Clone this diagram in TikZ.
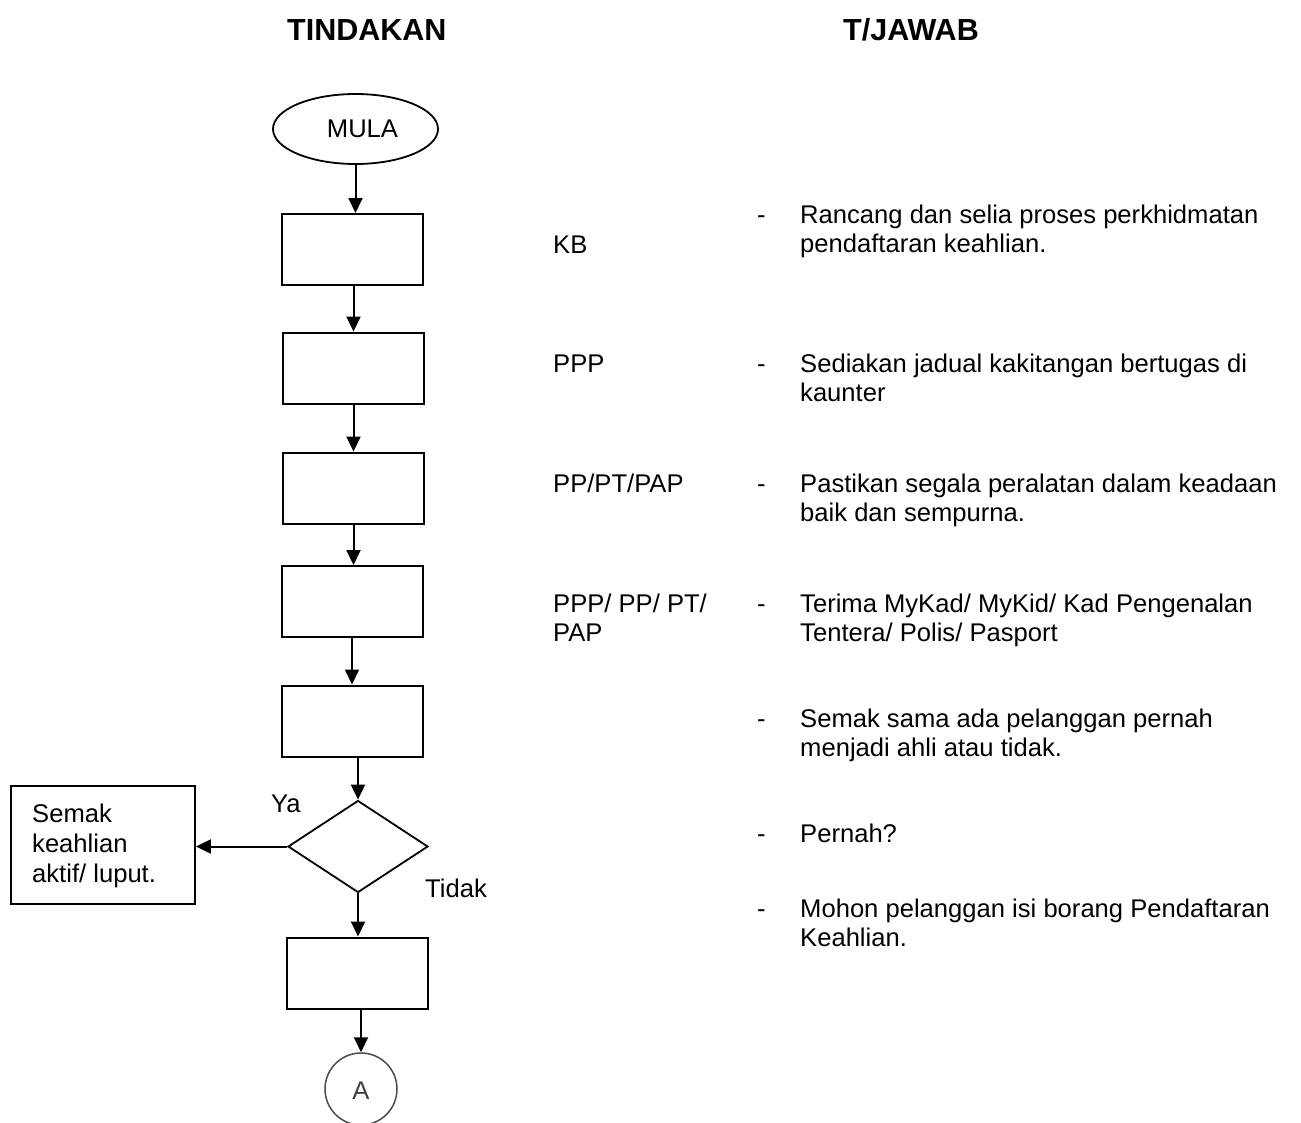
\documentclass[tikz,border=0pt]{standalone}
\usepackage{fontspec}
\setmainfont{Liberation Sans}
\usetikzlibrary{shapes.geometric,arrows.meta}
\begin{document}
\begin{tikzpicture}[x=1pt,y=-1pt,
  every node/.style={font=\fontsize{25.6}{29}\selectfont},
  stepbox/.style={draw, line width=2pt, minimum width=141pt, minimum height=71pt, inner sep=0pt},
  flow/.style={line width=2pt, -{Triangle[length=15pt,width=14pt]}},
  txt/.style={anchor=base west, inner sep=0pt, align=left},
  heading/.style={font=\fontsize{30.5}{36}\selectfont\bfseries, inner sep=0pt, anchor=base west}]
\clip (0,0) rectangle (1301,1122);

% column headings
\node[heading] (h1) at (287,40) {TINDAKAN};
\node[heading] (h2) at (843,40) {T/JAWAB};

% flow chart (multi-line nodes are anchored at the baseline of their last line)
\node[draw, ellipse, line width=1.8pt, minimum width=165pt, minimum height=70pt, inner sep=0pt,
      label={[xshift=7pt]center:MULA}] (mula) at (355.5,129) {};
\node[stepbox] (b1) at (352.5,249.5) {};
\node[stepbox] (b2) at (353.5,368) {};
\node[stepbox] (b3) at (353.5,488) {};
\node[stepbox] (b4) at (352,601.5) {};
\node[stepbox] (b5) at (352,721) {};
\node[draw, diamond, line width=1.8pt, minimum width=140pt, minimum height=92pt, inner sep=0pt] (dia) at (358,846.5) {};
\node[draw, line width=1.8pt, minimum width=184pt, minimum height=118pt, inner sep=0pt] (side) at (103,845) {};
\node[txt] (sidetxt) at (32,882) {Semak\\[1pt]keahlian\\[1pt]aktif/ luput.};
\node[stepbox] (b6) at (357.5,973) {};
\node[draw, circle, line width=1.5pt, draw=black!70, minimum size=72pt, inner sep=0pt] (conA) at (361,1089) {};
\node[text=black!75] (conAtxt) at (361,1091) {A};

\node[txt] (ya) at (271,812) {Ya};
\node[txt] (tidak) at (425,897) {Tidak};

\draw[flow] (mula.south) -- (mula.south |- b1.north);
\draw[flow] (b2.north |- b1.south) -- (b2.north);
\draw[flow] (b2.south) -- (b2.south |- b3.north);
\draw[flow] (b3.south) -- (b3.south |- b4.north);
\draw[flow] (b4.south) -- (b4.south |- b5.north);
\draw[flow] (dia.north |- b5.south) -- (dia.north);
\draw[flow] (dia.south) -- (dia.south |- b6.north);
\draw[flow] (conA.north |- b6.south) -- (conA.north);
\draw[flow] (dia.west) -- (side.east |- dia.west);

% responsibilities
\node[txt] (r1) at (553,253) {KB};
\node[txt] (r2) at (553,372) {PPP};
\node[txt] (r3) at (553,492) {PP/PT/PAP};
\node[txt] (r4) at (553,641) {PPP/ PP/ PT/\\PAP};

\foreach \y/\n in {223/1,372/2,492/3,612/4,727/5,842/6,917/7}
  \node[txt] (d\n) at (757,\y) {-};

\node[txt] (t1) at (800,252) {Rancang dan selia proses perkhidmatan\\pendaftaran keahlian.};
\node[txt] (t2) at (800,401) {Sediakan jadual kakitangan bertugas di\\kaunter};
\node[txt] (t3) at (800,521) {Pastikan segala peralatan dalam keadaan\\baik dan sempurna.};
\node[txt] (t4) at (800,641) {Terima MyKad/ MyKid/ Kad Pengenalan\\Tentera/ Polis/ Pasport};
\node[txt] (t5) at (800,756) {Semak sama ada pelanggan pernah\\menjadi ahli atau tidak.};
\node[txt] (t6) at (800,842) {Pernah?};
\node[txt] (t7) at (800,946) {Mohon pelanggan isi borang Pendaftaran\\Keahlian.};
\end{tikzpicture}
\end{document}
